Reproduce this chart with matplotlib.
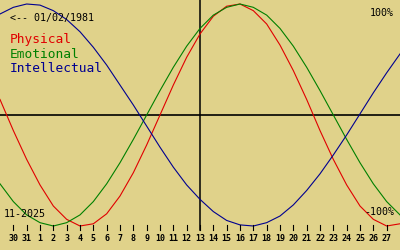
import matplotlib
matplotlib.use('Agg')
import matplotlib.pyplot as plt

# day labels along the bottom (Oct 30 .. Nov 27), today = 13 in the middle
day_labels = [30, 31] + list(range(1, 28))
day_index = list(range(31))  # 0 .. 30, one value per day

# biorhythm values in percent for each day index
physical = [14, -14, -40, -63, -82, -94, -100, -98, -89, -73, -52, -27, 0, 27, 52, 73,
            89, 98, 100, 94, 82, 63, 40, 14, -14, -40, -63, -82, -94, -100, -98]
emotional = [-62, -78, -90, -97, -100, -97, -90, -78, -62, -43, -22, 0, 22, 43, 62, 78,
             90, 97, 100, 97, 90, 78, 62, 43, 22, 0, -22, -43, -62, -78, -90]
intellectual = [91, 97, 100, 99, 94, 86, 75, 61, 45, 27, 9, -10, -29, -47, -63, -76,
                -87, -95, -99, -100, -97, -91, -81, -68, -53, -36, -18, 1, 20, 38, 55]

birth_text = '<-- 01/02/1981'
month_text = '11-2025'

BG = '#e0d28a'
RED = '#e00000'
GREEN = '#008000'
BLUE = '#000090'
W, H = 400, 250


def px(x, y):
    # pixel position -> axes fraction
    return x / W, 1 - y / H


fig = plt.figure(figsize=(4, 2.5), dpi=100)
fig.patch.set_facecolor(BG)
ax = fig.add_axes([0, 0, 1, 1])
ax.set_facecolor(BG)
ax.set_axis_off()
ax.set_xlim(0, 30)
ax.set_ylim((115 - H) / 111 * 100, 115 / 111 * 100)

# axes lines
ax.axhline(0, color='black', lw=1.2)
ax.plot([15, 15], [ax.get_ylim()[1], (115 - 230) / 111 * 100], color='black', lw=1.1)

ax.plot(day_index, physical, color=RED, lw=0.8)
ax.plot(day_index, emotional, color=GREEN, lw=0.8)
ax.plot(day_index, intellectual, color=BLUE, lw=0.8)

# ticks + day numbers
tick_top = (115 - 225) / 111 * 100
tick_bot = (115 - 230) / 111 * 100
for i, lab in enumerate(day_labels):
    k = i + 1
    ax.plot([k, k], [tick_top, tick_bot], color='black', lw=0.8)
    ax.text(k / 30, 1 - 241 / H, str(lab), transform=ax.transAxes, ha='center',
            va='baseline', fontsize=6, weight='bold', family='DejaVu Sans Mono')

mono = dict(family='DejaVu Sans Mono', va='baseline', transform=ax.transAxes)
ax.text(*px(10, 20.5), birth_text, fontsize=7.2, color='black', ha='left', **mono)
ax.text(*px(394, 16), '100%', fontsize=7.2, color='black', ha='right', **mono)
ax.text(*px(394, 215), '-100%', fontsize=7.2, color='black', ha='right', **mono)
ax.text(*px(4, 217), month_text, fontsize=7.2, color='black', ha='left', **mono)

ax.text(*px(10, 42.7), 'Physical', fontsize=9.3, color=RED, ha='left', **mono)
ax.text(*px(10, 57.5), 'Emotional', fontsize=9.3, color=GREEN, ha='left', **mono)
ax.text(*px(10, 72.5), 'Intellectual', fontsize=9.3, color=BLUE, ha='left', **mono)

fig.savefig('out.png', dpi=100, facecolor=BG)
